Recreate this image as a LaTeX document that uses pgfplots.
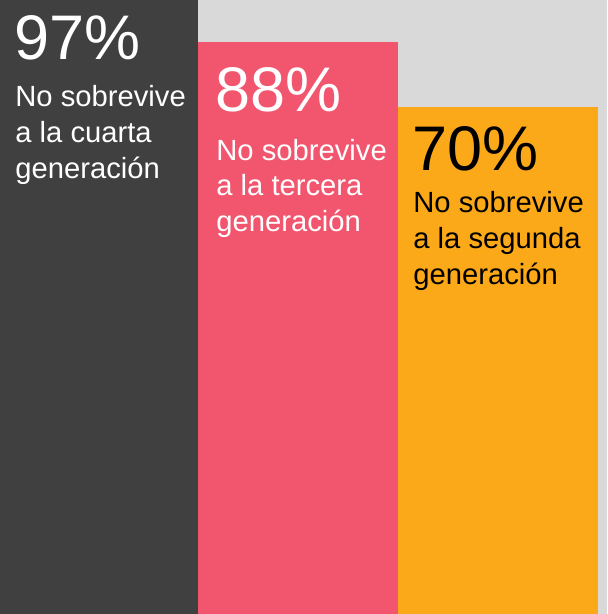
\documentclass[border=0pt]{standalone}
\usepackage{pgfplots}
\pgfplotsset{compat=1.18}
\usepackage{fontspec}
\setmainfont{Liberation Sans}

\definecolor{bg}{HTML}{D9D9D9}
\definecolor{darkbar}{HTML}{404040}
\definecolor{pinkbar}{HTML}{F2566F}
\definecolor{orangebar}{HTML}{FBA919}

\begin{document}
\begin{tikzpicture}[
    big/.style={font=\fontsize{31.5}{31.5}\selectfont, anchor=base west, inner sep=0pt},
    small/.style={font=\fontsize{14.6}{16}\selectfont, anchor=base west, inner sep=0pt},
  ]
\begin{axis}[
    width=303.5pt, height=307pt, scale only axis,
    xmin=0, xmax=607, ymin=0, ymax=614,
    axis line style={draw=none}, ticks=none,
    axis background/.style={fill=bg},
    ybar, bar width=200, bar shift=0pt,
    every axis plot/.append style={draw=none},
  ]
  % bar heights in pixels of the reference (labels are not to scale)
  \addplot[fill=darkbar] coordinates {(98,614)};
  \addplot[fill=pinkbar] coordinates {(298,572)};
  \addplot[fill=orangebar] coordinates {(498,507)};

  \node[big,white] at (axis cs:14,554) {97\%};
  \node[small,white] at (axis cs:15,507) {No sobrevive};
  \node[small,white] at (axis cs:15,471) {a la cuarta};
  \node[small,white] at (axis cs:15,435) {generación};

  \node[big,white] at (axis cs:215,502) {88\%};
  \node[small,white] at (axis cs:216,453) {No sobrevive};
  \node[small,white] at (axis cs:216,418) {a la tercera};
  \node[small,white] at (axis cs:216,382) {generación};

  \node[big,black] at (axis cs:412,443) {70\%};
  \node[small,black] at (axis cs:413,401) {No sobrevive};
  \node[small,black] at (axis cs:413,365) {a la segunda};
  \node[small,black] at (axis cs:413,329) {generación};
\end{axis}
\end{tikzpicture}
\end{document}
